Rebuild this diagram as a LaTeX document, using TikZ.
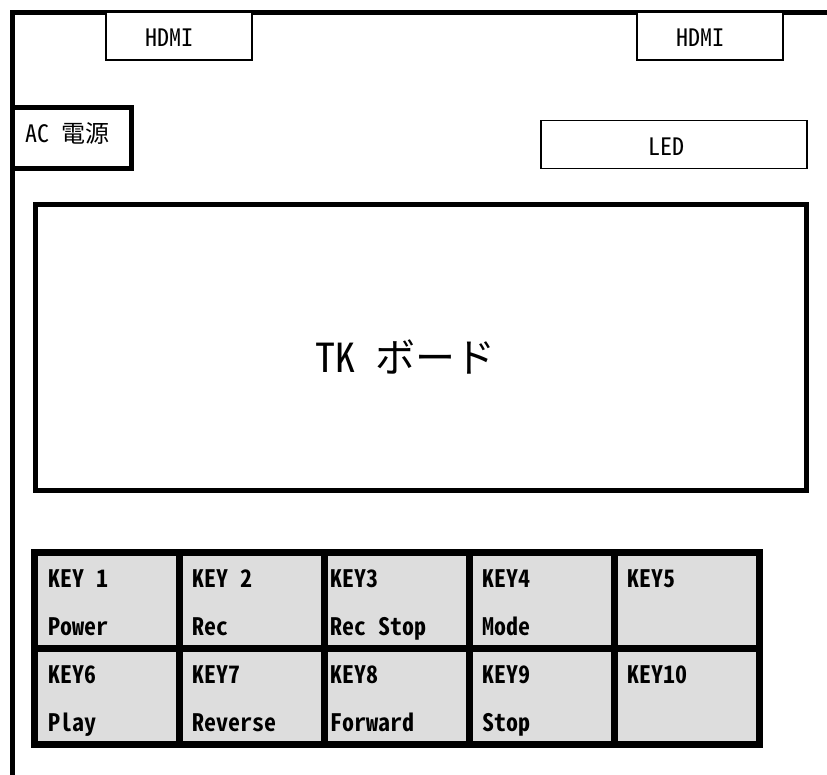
\documentclass[tikz,border=0pt]{standalone}
\usepackage{fontspec}
\setmainfont{Noto Sans CJK JP}[CharacterWidth=Half,BoldFont={Noto Sans CJK JP Bold}]
\usetikzlibrary{calc}
\definecolor{keygray}{RGB}{221,221,221}

\begin{document}
\begin{tikzpicture}[x=1pt,y=-1pt,
  thinbox/.style={draw,fill=white,line width=1.5pt,inner sep=0pt,outer sep=0pt,anchor=north west},
  thickbox/.style={draw,fill=white,line width=5pt,inner sep=0pt,outer sep=0pt,anchor=north west},
  keybox/.style={draw,fill=keygray,line width=7pt,inner sep=0pt,outer sep=0pt,
    minimum width=145pt,minimum height=96pt},
  lbl/.style={inner sep=0pt,anchor=base west,font=\fontsize{24}{24}\selectfont},
  keylbl/.style={lbl,font=\fontsize{24}{24}\selectfont\bfseries}]
\useasboundingbox (0,0) rectangle (827,775);

% outer case
\draw[line width=5pt] (827,12.5) -- (12,12.5) -- (12,775);

% connectors on the case
\node[thinbox,minimum width=146pt,minimum height=48pt] (hdmiL) at (106,12) {};
\node[lbl] (hdmiLtxt) at (145,47) {HDMI};
\node[thinbox,minimum width=146pt,minimum height=48pt] (hdmiR) at (637,12) {};
\node[lbl] (hdmiRtxt) at (676,47) {HDMI};

\node[thickbox,minimum width=119pt,minimum height=61.5pt] (acpow) at (12,107.5) {};
\node[lbl] (acpowtxt) at (25,143) {AC 電源};

\node[thinbox,minimum width=266pt,minimum height=48pt] (led) at (541,120.5) {};
\node[lbl] (ledtxt) at (648,156) {LED};

% board
\node[thickbox,minimum width=771pt,minimum height=285pt] (board) at (35,205) {};
\node[lbl,font=\fontsize{40}{40}\selectfont] (boardtxt) at (315,373) {TK ボード};

% keys
\foreach \k/\c/\r/\d/\a/\b in {1/0/0/14/KEY 1/Power,2/1/0/13/KEY 2/Rec,3/2/0/6/KEY3/Rec Stop,
    4/3/0/13/KEY4/Mode,5/4/0/13/KEY5/{},6/0/1/14/KEY6/Play,7/1/1/13/KEY7/Reverse,
    8/2/1/6/KEY8/Forward,9/3/1/13/KEY9/Stop,10/4/1/13/KEY10/{}}
{
  \node[keybox] (key\k) at (106.5+145*\c,600+96*\r) {};
  \node[keylbl] (key\k top) at ($(key\k.north west)+(\d,35)$) {\a};
  \node[keylbl] (key\k name) at ($(key\k.north west)+(\d,83)$) {\b};
}
\end{tikzpicture}
\end{document}
